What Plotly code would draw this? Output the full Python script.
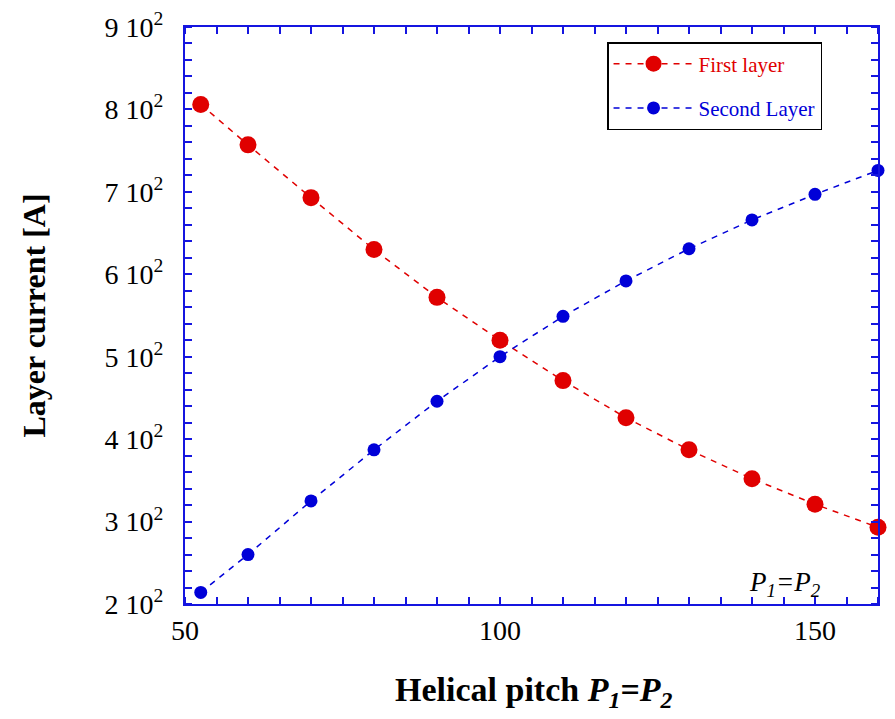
import plotly.graph_objects as go

# Data
pitch = [52.5, 60, 70, 80, 90, 100, 110, 120, 130, 140, 150, 160]
first_layer = [806, 757, 693, 630, 572, 520, 471, 426, 387, 352, 321, 293]
second_layer = [214, 260, 325, 387, 446, 500, 549, 592, 631, 666, 697, 726]

y_tickvals = [200, 300, 400, 500, 600, 700, 800, 900]
y_ticktext = ["2 10<sup>2</sup>", "3 10<sup>2</sup>", "4 10<sup>2</sup>", "5 10<sup>2</sup>",
              "6 10<sup>2</sup>", "7 10<sup>2</sup>", "8 10<sup>2</sup>", "9 10<sup>2</sup>"]
x_tickvals = [50, 100, 150]
x_ticktext = ["50", "100", "150"]

RED = "#e00000"
BLUE = "#0000d8"
AXIS = "#1515e0"
SERIF = "Liberation Serif, Times New Roman, serif"

fig = go.Figure()
fig.add_trace(go.Scatter(
    x=pitch, y=first_layer, mode="lines+markers",
    name=f"<span style='color:{RED}'>First layer</span>",
    legendgroup="a",
    line=dict(color=RED, width=1.5, dash="6px,6px"),
    marker=dict(color=RED, size=17, line=dict(width=0)),
    cliponaxis=False,
))
fig.add_trace(go.Scatter(
    x=pitch, y=second_layer, mode="lines+markers",
    name=f"<span style='color:{BLUE}'>Second Layer</span>",
    legendgroup="b",
    line=dict(color=BLUE, width=1.5, dash="6px,6px"),
    marker=dict(color=BLUE, size=13, line=dict(width=0)),
    cliponaxis=False,
))

axis_common = dict(
    showgrid=False, zeroline=False,
    showline=True, linecolor=AXIS, linewidth=2, mirror="allticks",
    ticks="", tickfont=dict(family=SERIF, size=28, color="black"),
)

fig.update_xaxes(
    range=[50, 160], tickvals=x_tickvals, ticktext=x_ticktext,
    ticklabelstandoff=0,
    minor=dict(dtick=5, tick0=50, ticks="inside", ticklen=7, tickwidth=2, tickcolor=AXIS),
    **axis_common,
)
fig.update_yaxes(
    range=[200, 900], tickvals=y_tickvals, ticktext=y_ticktext,
    ticklabelstandoff=14,
    minor=dict(dtick=20, tick0=200, ticks="inside", ticklen=7, tickwidth=2, tickcolor=AXIS),
    **axis_common,
)

# page body adds an 8px offset; size the figure so the plot box lands at
# x 185-878, y 27-604 of the window
fig.update_layout(
    width=887, height=711,
    margin=dict(l=177, r=17, t=19, b=115, autoexpand=False),
    paper_bgcolor="white", plot_bgcolor="white",
    font=dict(family=SERIF, color="black"),
    showlegend=True,
    legend=dict(
        x=0.609, y=0.974, xanchor="left", yanchor="top",
        bgcolor="white", bordercolor="black", borderwidth=1.5,
        font=dict(family=SERIF, size=21),
        tracegroupgap=14, itemwidth=80,
    ),
    annotations=[
        dict(text="<b>Layer current [A]</b>", xref="paper", yref="paper",
             x=(33 - 185) / 693, y=0.5, textangle=-90, showarrow=False,
             xanchor="center", yanchor="middle",
             font=dict(family=SERIF, size=32, color="black")),
        dict(text="<b>Helical pitch <i>P<sub>1</sub>=P<sub>2</sub></i></b>",
             xref="paper", yref="paper", x=0.503, y=-0.153, showarrow=False,
             xanchor="center", yanchor="middle",
             font=dict(family=SERIF, size=34, color="black")),
        dict(text="<i>P<sub>1</sub>=P<sub>2</sub></i>",
             xref="paper", yref="paper", x=0.866, y=0.035, showarrow=False,
             xanchor="center", yanchor="middle",
             font=dict(family=SERIF, size=27, color="black")),
    ],
)

fig.write_html("out.html")
